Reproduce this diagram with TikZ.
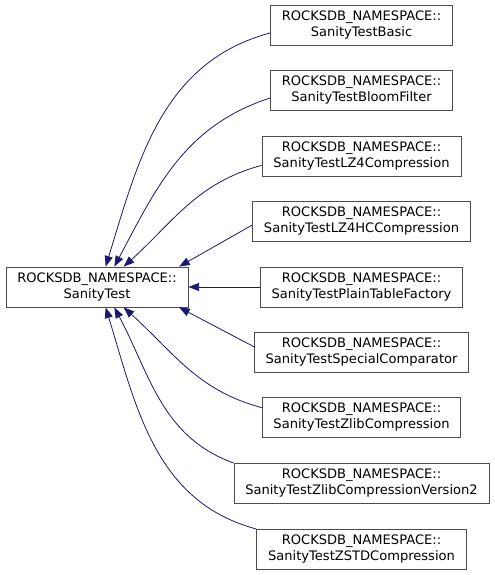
\documentclass[tikz,border=0pt]{standalone}
\usepackage{fontspec}
\setmainfont{DejaVu Sans}
\usepackage{tikz}
\usetikzlibrary{arrows.meta, positioning}

\begin{document}
\begin{tikzpicture}[x=0.75pt, y=-0.75pt,
    font=\fontsize{9.8}{12}\selectfont,
    classbox/.style={draw=black!70, fill=white, align=center, inner xsep=8.5pt, minimum height=30pt, line width=0.6pt},
    inherit/.style={draw={rgb,255:red,25;green,25;blue,112}, line width=0.6pt,
        -{Triangle[length=8pt, width=6pt, fill={rgb,255:red,25;green,25;blue,112}]}}]

% --- Canvas ---
\useasboundingbox (0,0) rectangle (495,575);

% --- Base class ---
\node[classbox] (base) at (97,287) {ROCKSDB\_NAMESPACE::\\SanityTest};

% --- Derived classes ---
\node[classbox] (basic)   at (361.5,25)  {ROCKSDB\_NAMESPACE::\\SanityTestBasic};
\node[classbox] (bloom)   at (361.5,90)  {ROCKSDB\_NAMESPACE::\\SanityTestBloomFilter};
\node[classbox] (lzfour)  at (361.5,156) {ROCKSDB\_NAMESPACE::\\SanityTestLZ4Compression};
\node[classbox] (lzfourhc) at (361.5,221) {ROCKSDB\_NAMESPACE::\\SanityTestLZ4HCCompression};
\node[classbox] (plain)   at (361.5,287) {ROCKSDB\_NAMESPACE::\\SanityTestPlainTableFactory};
\node[classbox] (special) at (361.5,352) {ROCKSDB\_NAMESPACE::\\SanityTestSpecialComparator};
\node[classbox] (zlib)    at (361.5,417) {ROCKSDB\_NAMESPACE::\\SanityTestZlibCompression};
\node[classbox] (zlibtwo) at (361.5,483) {ROCKSDB\_NAMESPACE::\\SanityTestZlibCompressionVersion2};
\node[classbox] (zstd)    at (361.5,549) {ROCKSDB\_NAMESPACE::\\SanityTestZSTDCompression};

% --- Inheritance edges (upper half) ---
\draw[inherit] ([yshift=-6pt]basic.west) to[out=195, in=73] ([xshift=6.5pt]base.north);
\draw[inherit] ([yshift=-6pt]bloom.west) to[out=198, in=62] ([xshift=13pt]base.north);
\draw[inherit] ([yshift=-7pt]lzfour.west) to[out=195, in=42] ([xshift=20pt]base.north);
\draw[inherit] ([yshift=-3pt]lzfourhc.west) -- ([xshift=-7pt]base.north east);

% --- Straight edge ---
\draw[inherit] (plain.west) -- (base.east);

% --- Inheritance edges (lower half) ---
\draw[inherit] ([yshift=4pt]special.west) -- ([xshift=-7pt]base.south east);
\draw[inherit] ([yshift=7pt]zlib.west) to[out=165, in=-42] ([xshift=20pt]base.south);
\draw[inherit] ([yshift=15pt]zlibtwo.west) to[out=160, in=-62] ([xshift=13pt]base.south);
\draw[inherit] ([yshift=15pt]zstd.west) to[out=165, in=-73] ([xshift=6.5pt]base.south);

\end{tikzpicture}
\end{document}
